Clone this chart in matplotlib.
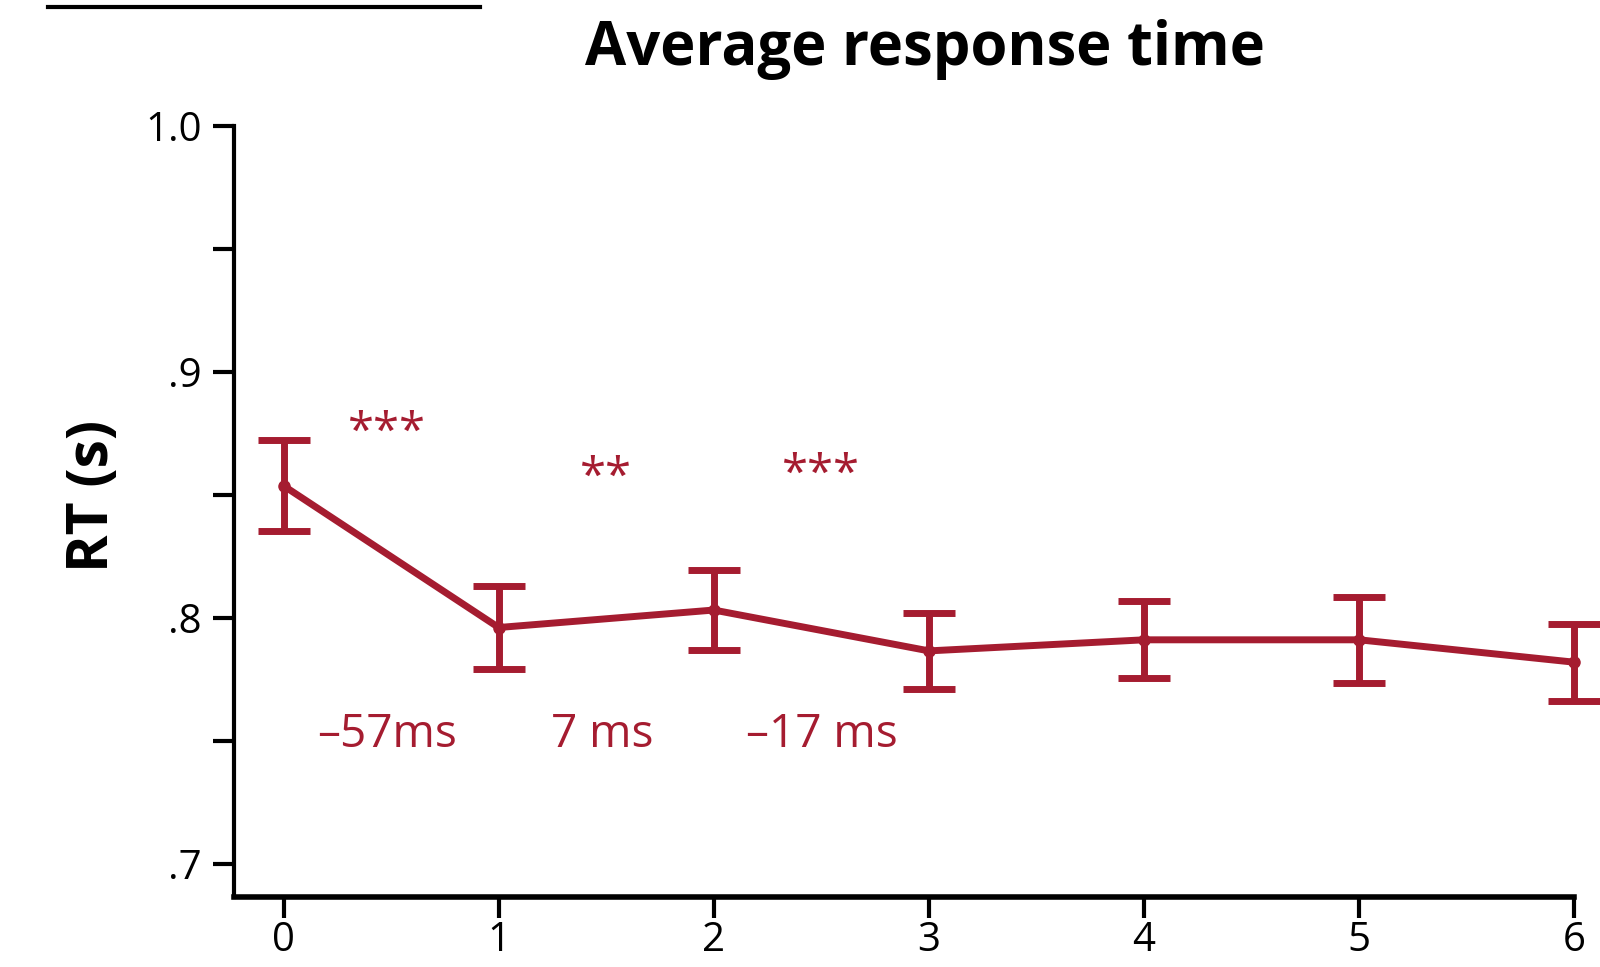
import numpy as np
import matplotlib.pyplot as plt
from matplotlib.lines import Line2D

plt.rcParams['font.family'] = ['Open Sans', 'DejaVu Sans']

# data
blocks = [0, 1, 2, 3, 4, 5, 6]
rt_mean = [0.8537, 0.7961, 0.8032, 0.7866, 0.7911, 0.7911, 0.7820]
rt_err = [0.0185, 0.0170, 0.0162, 0.0155, 0.0157, 0.0175, 0.0157]

stars = ["***", "**", "***"]
stars_x = [0.48, 1.5, 2.5]
stars_y = [0.875, 0.857, 0.858]
diffs = ["–57ms", "7 ms", "–17 ms"]
diffs_x = [0.48, 1.48, 2.5]
diffs_y = [0.7526, 0.7526, 0.7526]

red = "#A51C30"

fig = plt.figure(figsize=(16, 9.67), dpi=100)
ax = fig.add_axes([0.146, 0.0724, 0.838, 0.7976])

ax.errorbar(blocks, rt_mean, yerr=rt_err, color=red, lw=5, marker="o", ms=8,
            capsize=19, capthick=5, elinewidth=5, clip_on=False,
            solid_capstyle="round", dash_capstyle="round")

for s, x, y in zip(stars, stars_x, stars_y):
    ax.text(x, y, s, color=red, fontsize=34, ha="center", va="center")
for s, x, y in zip(diffs, diffs_x, diffs_y):
    ax.text(x, y, s, color=red, fontsize=33, ha="center", va="center")

ax.set_xlim(-0.232, 6)
ax.set_ylim(0.6866, 1.0)
ax.set_xticks(blocks)
ax.set_yticks([0.7, 0.75, 0.8, 0.85, 0.9, 0.95, 1.0])
ax.set_yticklabels([".7", "", ".8", "", ".9", "", "1.0"])
ax.tick_params(axis="both", length=15, width=3, labelsize=29)
ax.tick_params(axis="x", pad=2)
ax.tick_params(axis="y", pad=8)
ax.spines["top"].set_visible(False)
ax.spines["right"].set_visible(False)
ax.spines["left"].set_linewidth(3)
ax.spines["bottom"].set_linewidth(4)
ax.spines["left"].set_bounds(0.6866, 1.0)

ax.set_ylabel("RT (s)", fontsize=41, fontweight="bold")
ax.yaxis.set_label_coords(-0.083, 0.52)
fig.text(0.578, 0.949, "Average response time", fontsize=43, fontweight="bold",
         ha="center", va="center")

# cropped panel heading underline at the very top
fig.add_artist(Line2D([0.03, 0.30], [0.9925, 0.9925], color="black", lw=3,
                      transform=fig.transFigure))

fig.savefig("out.png", dpi=100)
